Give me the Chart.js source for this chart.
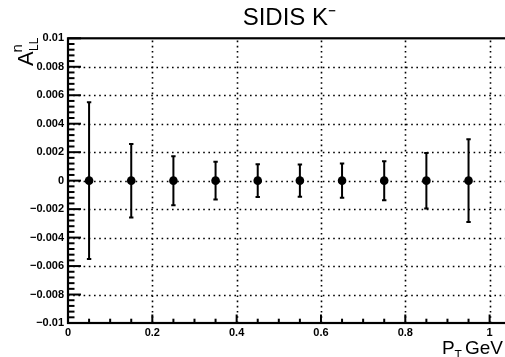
<!DOCTYPE html>
<html>
<head>
<meta charset="utf-8">
<script src="https://cdn.jsdelivr.net/npm/chart.js@4.4.1/dist/chart.umd.min.js"></script>
<style>
  html, body { margin: 0; padding: 0; background: #fff; overflow: hidden; width: 505px; height: 357px; }
  #wrap { position: relative; width: 515px; height: 357px; }
</style>
</head>
<body>
<div id="wrap"><canvas id="c" width="515" height="357"></canvas></div>
<script>
// ---- data ----
const xValues = [0.05, 0.15, 0.25, 0.35, 0.45, 0.55, 0.65, 0.75, 0.85, 0.95];
const yValues = [0, 0, 0, 0, 0, 0, 0, 0, 0, 0];
const yErrors = [0.0055, 0.00258, 0.00172, 0.00133, 0.00115, 0.00113, 0.0012, 0.00137, 0.00195, 0.0029];

const xTickValues = [0, 0.2, 0.4, 0.6, 0.8, 1.0];
const xTickLabels = ['0', '0.2', '0.4', '0.6', '0.8', '1'];
const yTickValues = [0.01, 0.008, 0.006, 0.004, 0.002, 0, -0.002, -0.004, -0.006, -0.008, -0.01];
const yTickLabels = ['0.01', '0.008', '0.006', '0.004', '0.002', '0', '\u22120.002', '\u22120.004', '\u22120.006', '\u22120.008', '\u22120.01'];

const chartTitle = 'SIDIS K\u207B';
const xMin = 0, xMax = 1.05, yMin = -0.01, yMax = 0.01;
const xMinorStep = 0.05, yMinorStep = 0.0004;

const FONT = '"Liberation Sans", Arial, Helvetica, sans-serif';

const rootStyle = {
  id: 'rootStyle',
  beforeDatasetsDraw(chart) {
    const ctx = chart.ctx;
    const a = chart.chartArea;
    const xs = chart.scales.x, ys = chart.scales.y;
    ctx.save();
    // dotted grid
    ctx.strokeStyle = '#000';
    ctx.lineWidth = 1.6;
    ctx.setLineDash([1.6, 3.6]);
    xTickValues.forEach(v => {
      if (v <= xMin) return;
      const px = Math.round(xs.getPixelForValue(v)) + 0.5;
      ctx.beginPath(); ctx.moveTo(px, a.bottom); ctx.lineTo(px, a.top); ctx.stroke();
    });
    yTickValues.forEach(v => {
      if (v <= yMin || v >= yMax) return;
      const py = Math.round(ys.getPixelForValue(v)) + 0.5;
      ctx.beginPath(); ctx.moveTo(a.left, py); ctx.lineTo(a.right, py); ctx.stroke();
    });
    ctx.setLineDash([]);
    // ticks
    ctx.strokeStyle = '#000';
    ctx.lineWidth = 2;
    const nYMinor = Math.round((yMax - yMin) / yMinorStep);
    for (let i = 0; i <= nYMinor; i++) {
      const v = yMin + i * yMinorStep;
      const major = yTickValues.some(t => Math.abs(t - v) < 1e-9);
      const py = ys.getPixelForValue(v);
      ctx.beginPath(); ctx.moveTo(a.left, py); ctx.lineTo(a.left + (major ? 13 : 6.5), py); ctx.stroke();
    }
    const nXMinor = Math.round((xMax - xMin) / xMinorStep);
    for (let i = 0; i <= nXMinor; i++) {
      const v = xMin + i * xMinorStep;
      const major = xTickValues.some(t => Math.abs(t - v) < 1e-9);
      const px = xs.getPixelForValue(v);
      ctx.beginPath(); ctx.moveTo(px, a.bottom); ctx.lineTo(px, a.bottom - (major ? 8.5 : 4.3)); ctx.stroke();
    }
    // frame
    ctx.lineWidth = 2.2;
    ctx.strokeRect(a.left, a.top, a.right - a.left, a.bottom - a.top);
    // error bars
    ctx.lineWidth = 2;
    xValues.forEach((x, i) => {
      const px = xs.getPixelForValue(x);
      const pt = ys.getPixelForValue(yValues[i] + yErrors[i]);
      const pb = ys.getPixelForValue(yValues[i] - yErrors[i]);
      ctx.beginPath();
      ctx.moveTo(px, pt); ctx.lineTo(px, pb);
      ctx.moveTo(px - 2.2, pt); ctx.lineTo(px + 2.2, pt);
      ctx.moveTo(px - 2.2, pb); ctx.lineTo(px + 2.2, pb);
      ctx.stroke();
    });
    ctx.restore();
  },
  afterDraw(chart) {
    const ctx = chart.ctx;
    ctx.save();
    ctx.fillStyle = '#000';
    ctx.textBaseline = 'alphabetic';
    ctx.textAlign = 'left';
    // y axis title: A^n_LL rotated
    ctx.translate(33, 66);
    ctx.rotate(-Math.PI / 2);
    ctx.font = '22px ' + FONT;
    ctx.fillText('A', 0, 0);
    ctx.font = '15px ' + FONT;
    ctx.fillText('n', 13.5, -11);
    ctx.font = '12px ' + FONT;
    ctx.fillText('LL', 15, 5);
    ctx.setTransform(1, 0, 0, 1, 0, 0);
    // x axis title: P_T GeV
    ctx.font = '19px ' + FONT;
    ctx.fillText('P', 442, 354);
    ctx.font = '12px ' + FONT;
    ctx.fillText('T', 454.5, 359);
    ctx.font = '19px ' + FONT;
    ctx.fillText('GeV', 465, 354);
    ctx.restore();
  }
};

new Chart(document.getElementById('c'), {
  type: 'scatter',
  data: {
    datasets: [{
      data: xValues.map((x, i) => ({ x: x, y: yValues[i] })),
      backgroundColor: '#000',
      borderColor: '#000',
      pointRadius: 4.3,
      pointHoverRadius: 4.3,
      borderWidth: 0
    }]
  },
  options: {
    responsive: false,
    animation: false,
    events: [],
    layout: { padding: { left: 0, right: 4, top: 0, bottom: 0 } },
    plugins: {
      legend: { display: false },
      tooltip: { enabled: false },
      title: {
        display: true,
        text: chartTitle,
        fullSize: false,
        color: '#000',
        font: { family: FONT, size: 24, weight: 'normal', lineHeight: 1.2 },
        padding: { top: 4, bottom: 5.5 }
      }
    },
    scales: {
      x: {
        type: 'linear', min: xMin, max: xMax,
        grid: { display: false, drawTicks: false },
        border: { display: false },
        afterBuildTicks: s => { s.ticks = xTickValues.map(v => ({ value: v })); },
        afterFit: s => { s.height = 34; },
        ticks: {
          color: '#000', padding: 3, maxRotation: 0, autoSkip: false,
          font: { family: FONT, size: 11, weight: 'bold' },
          callback: (v) => { const i = xTickValues.findIndex(t => Math.abs(t - v) < 1e-9); return i >= 0 ? xTickLabels[i] : ''; }
        }
      },
      y: {
        type: 'linear', min: yMin, max: yMax,
        grid: { display: false, drawTicks: false },
        border: { display: false },
        afterBuildTicks: s => { s.ticks = yTickValues.map(v => ({ value: v })); },
        afterFit: s => { s.width = 68; },
        ticks: {
          color: '#000', padding: 4, autoSkip: false,
          font: { family: FONT, size: 11, weight: 'bold' },
          callback: (v) => { const i = yTickValues.findIndex(t => Math.abs(t - v) < 1e-12); return i >= 0 ? yTickLabels[i] : ''; }
        }
      }
    }
  },
  plugins: [rootStyle]
});
</script>
</body>
</html>
